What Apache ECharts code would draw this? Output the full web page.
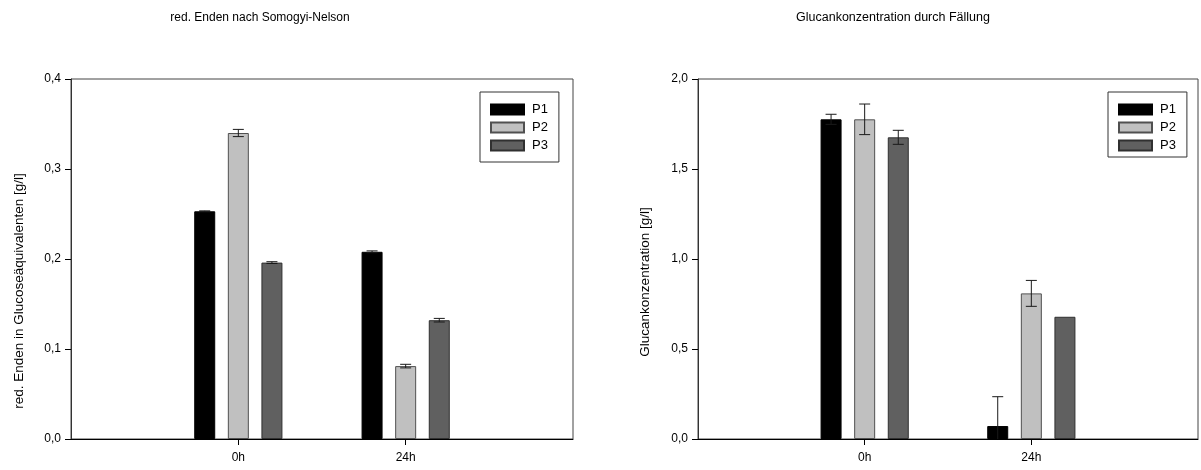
<!DOCTYPE html>
<html>
<head>
<meta charset="utf-8">
<script src="https://cdn.jsdelivr.net/npm/echarts@6/dist/echarts.min.js"></script>
<style>
html,body{margin:0;padding:0;background:#fff;}
#c{width:1201px;height:470px;}
</style>
</head>
<body>
<div id="c"></div>
<script>
// ---- data ----
const categories = ['0h', '24h'];
const seriesNames = ['P1', 'P2', 'P3'];
// left chart: red. Enden nach Somogyi-Nelson [g/l]
const leftP1 = [0.253, 0.208];
const leftP2 = [0.340, 0.081];
const leftP3 = [0.196, 0.132];
const leftP1Err = [0.0005, 0.001];
const leftP2Err = [0.004, 0.002];
const leftP3Err = [0.001, 0.002];
// right chart: Glucankonzentration durch Fällung [g/l]
const rightP1 = [1.776, 0.072];
const rightP2 = [1.776, 0.809];
const rightP3 = [1.676, 0.679];
const rightP1Err = [0.028, 0.163];
const rightP2Err = [0.085, 0.072];
const rightP3Err = [0.039, 0];
const leftTicks = [0, 0.1, 0.2, 0.3, 0.4];
const rightTicks = [0, 0.5, 1.0, 1.5, 2.0];

const FONT = "'Liberation Sans', Arial, sans-serif";
const colors = ['#000000', '#c0c0c0', '#606060'];
const borders = ['#000000', '#505050', '#303030'];
const BAR_W = 21;
const BAR_GAP = 0.6;

// padded category axis so 0h/24h sit at 1/3 and 2/3 of the plot width
const axisCats = [''].concat(categories, ['']);
const pad = arr => [null].concat(arr, [null]);

function barSeries(vals, i, ax) {
  return {
    type: 'bar', name: seriesNames[i], xAxisIndex: ax, yAxisIndex: ax,
    data: pad(vals), barWidth: BAR_W, barGap: (BAR_GAP * 100) + '%',
    itemStyle: { color: colors[i], borderColor: borders[i], borderWidth: 1 },
    emphasis: { disabled: true }, animation: false
  };
}
function errSeries(vals, errs, i, ax) {
  const offset = (i - 1) * BAR_W * (1 + BAR_GAP);
  return {
    type: 'custom', name: seriesNames[i] + ' err', xAxisIndex: ax, yAxisIndex: ax,
    clip: true, z: 5, animation: false, silent: true,
    data: vals.map((v, k) => [k + 1, v, errs[k]]),
    renderItem: function (params, api) {
      const x = api.value(0), v = api.value(1), e = api.value(2);
      if (!e) return null;
      const hi = api.coord([x, v + e]);
      const lo = api.coord([x, v - e]);
      const cx = hi[0] + offset;
      const cap = 5.5;
      const st = { stroke: '#1a1a1a', lineWidth: 1 };
      return {
        type: 'group', children: [
          { type: 'line', shape: { x1: cx, y1: hi[1], x2: cx, y2: lo[1] }, style: st },
          { type: 'line', shape: { x1: cx - cap, y1: hi[1], x2: cx + cap, y2: hi[1] }, style: st },
          { type: 'line', shape: { x1: cx - cap, y1: lo[1], x2: cx + cap, y2: lo[1] }, style: st }
        ]
      };
    }
  };
}

function xAxis(grid) {
  return {
    type: 'category', gridIndex: grid, data: axisCats, boundaryGap: false,
    axisLine: { lineStyle: { color: '#000', width: 1 } },
    axisTick: { length: 6, inside: false, interval: (idx, val) => val !== '', lineStyle: { color: '#000' } },
    axisLabel: { interval: 0, margin: 13, fontFamily: FONT, fontSize: 12, color: '#000' },
    splitLine: { show: false }
  };
}
function yAxis(grid, ticks) {
  return {
    type: 'value', gridIndex: grid, min: ticks[0], max: ticks[ticks.length - 1],
    interval: ticks[1] - ticks[0],
    axisLine: { show: true, lineStyle: { color: '#333', width: 1 } },
    axisTick: { show: true, length: 6, inside: false, lineStyle: { color: '#000' } },
    axisLabel: { margin: 10, fontFamily: FONT, fontSize: 12, color: '#000',
      formatter: v => v.toFixed(1).replace('.', ',') },
    splitLine: { show: false }
  };
}
function legend(left, top, pb) {
  return {
    show: true, data: seriesNames, orient: 'vertical', left: left, top: top,
    icon: 'rect', itemWidth: 33, itemHeight: 10, itemGap: 5,
    padding: [11, 11, pb, 10], borderColor: '#333', borderWidth: 1, borderRadius: 0,
    backgroundColor: '#fff', selectedMode: false,
    textStyle: { fontFamily: FONT, fontSize: 13, color: '#000', padding: [0, 0, 0, 3] }
  };
}

const chart = echarts.init(document.getElementById('c'), null, { renderer: 'canvas' });
chart.setOption({
  backgroundColor: '#fff',
  animation: false,
  grid: [
    { left: 71, right: 628, top: 79, bottom: 31, show: true, borderColor: '#444', borderWidth: 1, backgroundColor: 'transparent' },
    { left: 698, right: 1, top: 79, bottom: 31, show: true, borderColor: '#444', borderWidth: 1, backgroundColor: 'transparent' }
  ],
  xAxis: [xAxis(0), xAxis(1)],
  yAxis: [yAxis(0, leftTicks), yAxis(1, rightTicks)],
  legend: [legend(480, 92, 10), legend(1108, 92, 5)],
  graphic: [
    { type: 'text', x: 260, y: 18, style: { text: 'red. Enden nach Somogyi-Nelson', font: '12px ' + FONT, fill: '#000', align: 'center', verticalAlign: 'middle' } },
    { type: 'text', x: 893, y: 18, style: { text: 'Glucankonzentration durch Fällung', font: '12.5px ' + FONT, fill: '#000', align: 'center', verticalAlign: 'middle' } },
    { type: 'text', x: 19, y: 291, rotation: Math.PI / 2, style: { text: 'red. Enden in Glucoseäquivalenten [g/l]', font: '13.5px ' + FONT, fill: '#000', align: 'center', verticalAlign: 'middle' } },
    { type: 'text', x: 645, y: 282, rotation: Math.PI / 2, style: { text: 'Glucankonzentration [g/l]', font: '13.5px ' + FONT, fill: '#000', align: 'center', verticalAlign: 'middle' } }
  ],
  series: [
    barSeries(leftP1, 0, 0), barSeries(leftP2, 1, 0), barSeries(leftP3, 2, 0),
    barSeries(rightP1, 0, 1), barSeries(rightP2, 1, 1), barSeries(rightP3, 2, 1),
    errSeries(leftP1, leftP1Err, 0, 0), errSeries(leftP2, leftP2Err, 1, 0), errSeries(leftP3, leftP3Err, 2, 0),
    errSeries(rightP1, rightP1Err, 0, 1), errSeries(rightP2, rightP2Err, 1, 1), errSeries(rightP3, rightP3Err, 2, 1)
  ]
});
</script>
</body>
</html>
